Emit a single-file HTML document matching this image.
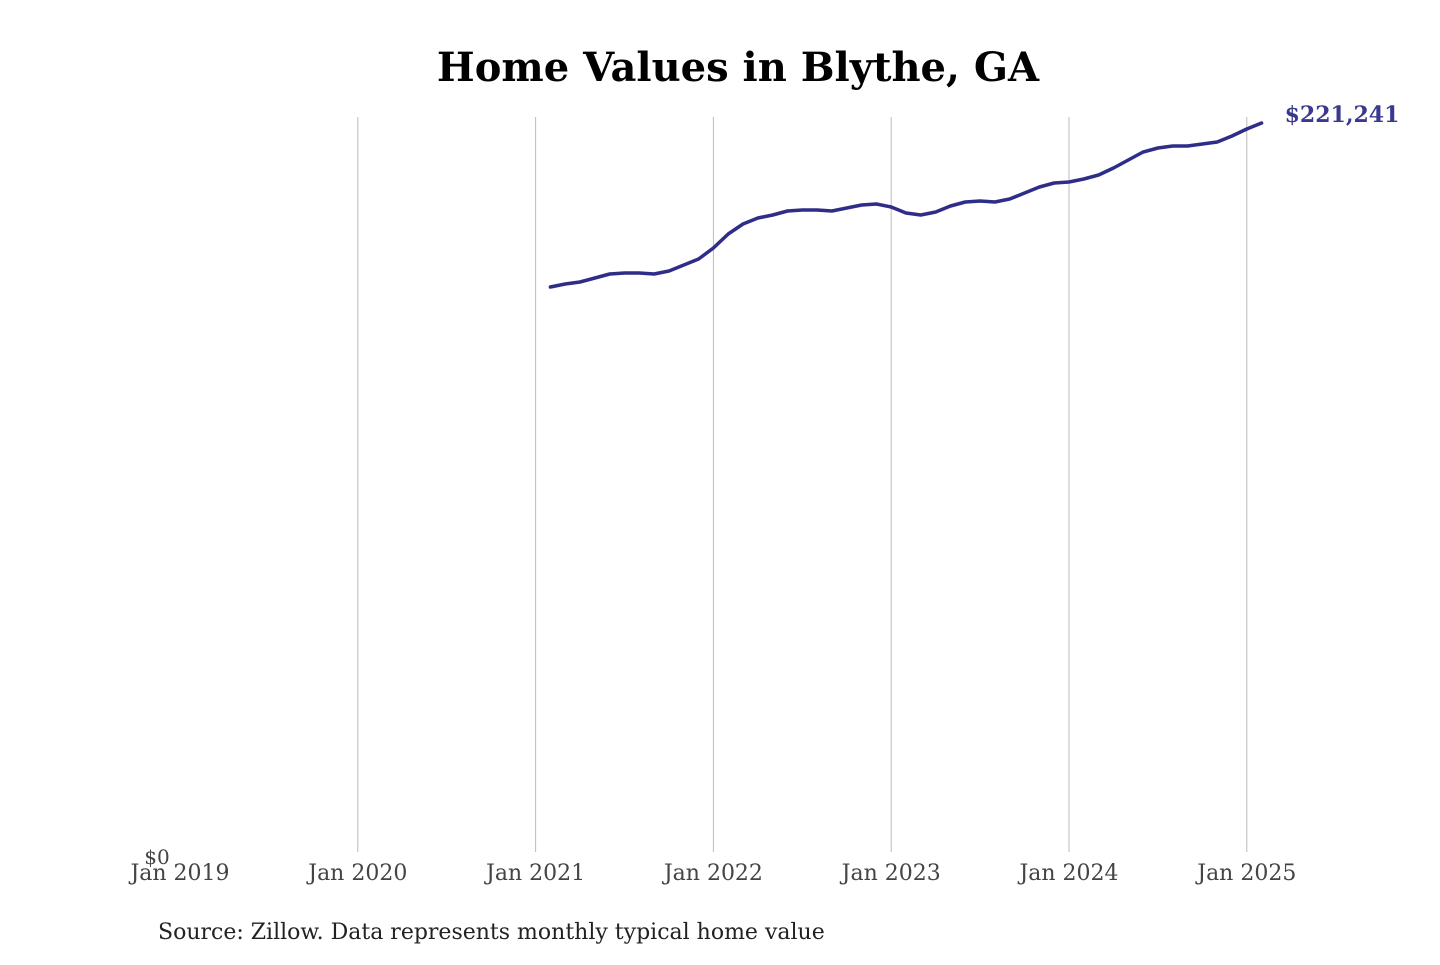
<!DOCTYPE html>
<html><head><meta charset="utf-8"><style>
body{margin:0;background:#fff;width:1440px;height:960px;overflow:hidden}
svg text{font-family:"DejaVu Serif","Liberation Serif",serif}
</style></head><body>
<svg id="chart" width="1440" height="960">
<text x="738" y="81" text-anchor="middle" font-size="40" font-weight="bold" fill="#000">Home Values in Blythe, GA</text>
<g id="grid"></g>
<g id="xticks"></g>
<text x="157" y="864" text-anchor="middle" font-size="20" fill="#444">$0</text>
<path id="line" fill="none" stroke="#2e2d88" stroke-width="3.5" stroke-linejoin="round" stroke-linecap="round"></path>
<text id="endlabel" font-size="22" font-weight="bold" fill="#3a3990"></text>
<text x="158" y="939" font-size="22" fill="#222">Source: Zillow. Data represents monthly typical home value</text>
</svg>
<script>
const tickYears=[2019,2020,2021,2022,2023,2024,2025];
const tickLabels=["Jan 2019","Jan 2020","Jan 2021","Jan 2022","Jan 2023","Jan 2024","Jan 2025"];
const startYear=2021, startMonth=1; // Feb 2021 (0-based month)
const values=[171741,172647,173250,174458,175665,175967,175967,175665,176571,178382,180193,
183513,187739,190757,192568,193474,194682,194984,194984,194682,195588,196493,196795,
195890,194077,193474,194379,196190,197397,197699,197397,198303,200114,201925,203132,
203434,204340,205547,207660,210075,212489,213697,214300,214300,214904,215508,217319,
219432,221241];
const NS="http://www.w3.org/2000/svg";
const x=t=>180+(t-2019)*177.8;
const y=v=>856-v/221241*733;
const grid=document.getElementById('grid'),xt=document.getElementById('xticks');
tickYears.forEach((yr,i)=>{
  if(i>0){const l=document.createElementNS(NS,'line');
  
  
  l.setAttribute('x1',x(yr));l.setAttribute('x2',x(yr));l.setAttribute('y1',117);l.setAttribute('y2',852);
  l.setAttribute('stroke','#bbb');l.setAttribute('stroke-width','1');grid.appendChild(l);}
  const t=document.createElementNS(NS,'text');
  
  
  t.setAttribute('x',x(yr));t.setAttribute('y',880);t.setAttribute('text-anchor','middle');
  t.setAttribute('font-size','22');t.setAttribute('fill','#444');t.textContent=tickLabels[i];xt.appendChild(t);
});
let d='';
values.forEach((v,i)=>{const t=startYear+(startMonth+i)/12;d+=(i?'L':'M')+x(t).toFixed(1)+','+y(v).toFixed(1);});
document.getElementById('line').setAttribute('d',d);
const last=values[values.length-1],lt=startYear+(startMonth+values.length-1)/12;
const el=document.getElementById('endlabel');
el.setAttribute('x',x(lt)+23);el.setAttribute('y',y(last)-1);
el.textContent='$'+last.toLocaleString('en-US');
</script>
</body></html>
